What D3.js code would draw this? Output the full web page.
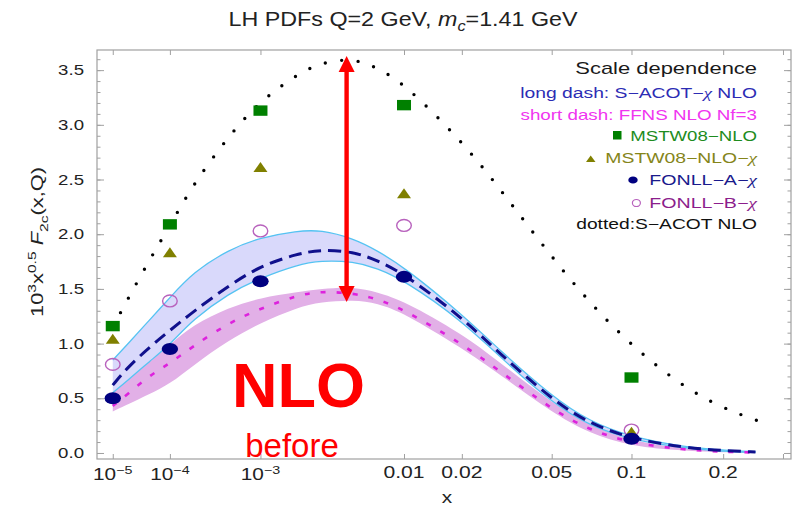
<!DOCTYPE html>
<html><head><meta charset="utf-8">
<script src="https://cdn.jsdelivr.net/npm/d3@7"></script>
<style>body{margin:0;background:#fff}svg{display:block}</style>
</head><body>
<svg id="chart" width="801" height="509"></svg>
<script>
// ---------------- data ----------------
const xGrid = [1e-5,2e-5,5e-5,1e-4,2e-4,5e-4,1e-3,2e-3,3e-3,5e-3,7e-3,0.01,0.02,0.03,0.05,0.07,0.1,0.15,0.2,0.25];
const sacotChiNLO  = [0.62,0.78,0.97,1.12,1.29,1.53,1.71,1.82,1.86,1.84,1.76,1.64,1.24,0.91,0.49,0.27,0.13,0.05,0.02,0.01];
const sacotChiLow  = [0.55,0.66,0.84,0.99,1.22,1.46,1.60,1.72,1.76,1.75,1.69,1.58,1.21,0.88,0.46,0.25,0.12,0.045,0.015,0.005];
const sacotChiHigh = [0.85,0.99,1.22,1.42,1.65,1.86,1.97,2.03,2.04,1.96,1.85,1.70,1.27,0.94,0.52,0.29,0.145,0.055,0.025,0.012];
const ffnsNLO  = [0.43,0.535,0.71,0.82,0.975,1.19,1.32,1.44,1.48,1.46,1.41,1.31,1.00,0.75,0.40,0.21,0.09,0.03,0.01,0.004];
const ffnsLow  = [0.38,0.44,0.54,0.63,0.80,1.03,1.19,1.33,1.38,1.40,1.37,1.28,0.96,0.72,0.37,0.18,0.06,0.02,0.006,0.002];
const ffnsHigh = [0.55,0.66,0.84,0.99,1.17,1.33,1.42,1.47,1.50,1.52,1.47,1.39,1.09,0.83,0.46,0.25,0.11,0.04,0.015,0.007];
const sacotX   = [1e-5,2e-5,5e-5,1e-4,2e-4,5e-4,1e-3,2e-3,3e-3,5e-3,7e-3,0.01,0.02,0.03,0.05,0.07,0.1,0.15,0.2,0.25,0.27];
const sacotNLO = [1.15,1.40,1.77,2.08,2.45,2.90,3.22,3.46,3.57,3.61,3.52,3.38,2.85,2.42,1.79,1.38,0.98,0.60,0.41,0.30,0.27];

const pointX    = [1e-5,1e-4,1e-3,0.01,0.1];
const mstw08    = [1.16,2.09,3.13,3.18,0.69];
const mstw08chi = [1.04,1.83,2.61,2.37,0.19];
const fonllA    = [0.50,0.95,1.57,1.61,0.13];
const fonllB    = [0.81,1.39,2.03,2.08,0.21];

const arrowX = 0.0045, arrowTop = 3.63, arrowBottom = 1.38;

const xTicks = [1e-5,1e-4,1e-3,0.01,0.02,0.05,0.1,0.2,0.3];
const xTickLabels = ["10^−5","10^−4","10^−3","0.01","0.02","0.05","0.1","0.2",""];
const yMajor = [0,0.5,1,1.5,2,2.5,3,3.5];
const yMinor = d3.range(0,37).map(i=>i/10);

const legendRows = [
  {parts:[["Scale dependence"]], color:"#1a1a1a"},
  {parts:[["long dash: S−ACOT−"],["χ","chi"],[" NLO"]], color:"#2c2cb4"},
  {parts:[["short dash: FFNS NLO Nf=3"]], color:"#f035f0"},
  {parts:[["MSTW08−NLO"]], color:"#1e8c1e"},
  {parts:[["MSTW08−NLO−"],["χ","chi"]], color:"#85851a"},
  {parts:[["FONLL−A−"],["χ","chi"]], color:"#1a1a8c"},
  {parts:[["FONLL−B−"],["χ","chi"]], color:"#8c1e8c"},
  {parts:[["dotted:S−ACOT NLO"]], color:"#111111"}
];

// ---------------- layout ----------------
const FONT = "'Liberation Sans', Arial, Helvetica, sans-serif";
const L = 97, R = 791, T = 50, B = 459;
const svg = d3.select("#chart");
const x = d3.scalePow().exponent(0.2).domain([4.15e-6, 0.316]).range([L, R]);
const y = d3.scaleLinear().domain([-0.055, 3.684]).range([B, T]);

function addText(parent, o, build) {
  const g = parent.append("g");
  const t = g.append("text").attr("x",0).attr("y",0)
    .attr("text-anchor", o.anchor || "start")
    .attr("font-size", o.size).attr("fill", o.fill || "#222")
    .attr("font-family", o.family || FONT);
  if (o.weight) t.attr("font-weight", o.weight);
  build(t);
  let sx = o.sx || 1;
  if (o.width) { const w = t.node().getBBox().width; sx = o.width / w; }
  g.attr("transform", `translate(${o.x},${o.y})${o.rotate ? ` rotate(${o.rotate})` : ""} scale(${sx},${o.sy || 1})`);
  return t;
}

const plot = svg.append("g");
svg.append("clipPath").attr("id","clip").append("rect")
  .attr("x",L).attr("y",T).attr("width",R-L).attr("height",B-T);
const inner = plot.append("g").attr("clip-path","url(#clip)");

// bands
const idx = xGrid.map((d,i)=>i);
const CURVE = d3.curveBasis;
const area = (lo, hi) => d3.area().curve(CURVE)
  .x(i=>x(xGrid[i])).y0(i=>y(lo[i])).y1(i=>y(hi[i]));
const lineOf = (xs, ys) => d3.line().curve(CURVE).x(i=>x(xs[i])).y(i=>y(ys[i]));

inner.append("path").attr("d", area(ffnsLow, ffnsHigh)(idx)).attr("fill","#e2b0e7");
inner.append("path").attr("d", area(sacotChiLow, sacotChiHigh)(idx)).attr("fill","#d6d6fb").attr("fill-opacity",0.92);
inner.append("path").attr("d", lineOf(xGrid, sacotChiHigh)(idx)).attr("fill","none").attr("stroke","#55c3f2").attr("stroke-width",1.3);
inner.append("path").attr("d", lineOf(xGrid, sacotChiLow)(idx)).attr("fill","none").attr("stroke","#55c3f2").attr("stroke-width",1.3);

// lines
inner.append("path").attr("d", lineOf(xGrid, ffnsNLO)(idx)).attr("fill","none")
  .attr("stroke","#dd22dd").attr("stroke-width",2.6).attr("stroke-dasharray","5,11");
inner.append("path").attr("d", lineOf(xGrid, sacotChiNLO)(idx)).attr("fill","none")
  .attr("stroke","#10108c").attr("stroke-width",3).attr("stroke-dasharray","13,7");
inner.append("path").attr("d", lineOf(sacotX, sacotNLO)(sacotX.map((d,i)=>i))).attr("fill","none")
  .attr("stroke","#000").attr("stroke-width",3.4).attr("stroke-linecap","round").attr("stroke-dasharray","0,16.5");

// markers
const mk = plot.append("g");
mk.selectAll("rect.sq").data(pointX).join("rect")
  .attr("x",(d)=>x(d)-7).attr("y",(d,i)=>y(mstw08[i])-5.2).attr("width",14).attr("height",10.4).attr("fill","#008000");
mk.selectAll("path.tri").data(pointX).join("path")
  .attr("d",(d,i)=>{const cx=x(d), cy=y(mstw08chi[i]); return `M${cx-7},${cy+4.5}L${cx+7},${cy+4.5}L${cx},${cy-5.5}Z`;})
  .attr("fill","#808000");
mk.selectAll("ellipse.op").data(pointX).join("ellipse")
  .attr("cx",d=>x(d)).attr("cy",(d,i)=>y(fonllB[i])).attr("rx",7.3).attr("ry",5.9)
  .attr("fill","none").attr("stroke","#b862bd").attr("stroke-width",1.4);
mk.selectAll("ellipse.fi").data(pointX).join("ellipse")
  .attr("cx",d=>x(d)).attr("cy",(d,i)=>y(fonllA[i])).attr("rx",8.2).attr("ry",6).attr("fill","#000080");

// frame & ticks
const tickStyle = g => { g.select(".domain").remove(); g.selectAll("line").attr("stroke","#a0a0a0"); };
plot.append("g").attr("transform",`translate(${L},0)`).call(d3.axisRight(y).tickValues(yMinor).tickSize(3.5).tickFormat("")).call(tickStyle);
plot.append("g").attr("transform",`translate(${L},0)`).call(d3.axisRight(y).tickValues(yMajor).tickSize(7).tickFormat("")).call(tickStyle);
plot.append("g").attr("transform",`translate(${R},0)`).call(d3.axisLeft(y).tickValues(yMinor).tickSize(3.5).tickFormat("")).call(tickStyle);
plot.append("g").attr("transform",`translate(${R},0)`).call(d3.axisLeft(y).tickValues(yMajor).tickSize(7).tickFormat("")).call(tickStyle);
plot.append("g").attr("transform",`translate(0,${B})`).call(d3.axisTop(x).tickValues(xTicks).tickSize(5).tickFormat("")).call(tickStyle);
plot.append("g").attr("transform",`translate(0,${T})`).call(d3.axisBottom(x).tickValues(xTicks).tickSize(5).tickFormat("")).call(tickStyle);
plot.append("rect").attr("x",L).attr("y",T).attr("width",R-L).attr("height",B-T)
  .attr("fill","none").attr("stroke","#a0a0a0").attr("stroke-width",1.2);

// tick labels
const fmtY = d3.format(".1f");
yMajor.forEach(v => addText(svg, {x:84, y:y(v)+5, size:14, anchor:"end", sx:1.33}, t=>t.text(fmtY(v))));
xTicks.forEach((v,i) => {
  const lab = xTickLabels[i]; if (!lab) return;
  if (lab.includes("^")) {
    const [b,e] = lab.split("^");
    addText(svg, {x:x(v), y:479.5, size:16, anchor:"middle", sx:1.3}, t=>{
      t.append("tspan").text(b);
      t.append("tspan").attr("font-size",11).attr("dy",-6).text(e);
    });
  } else {
    addText(svg, {x:x(v), y:477.5, size:16, anchor:"middle", sx:1.32}, t=>t.text(lab));
  }
});

// axis titles
addText(svg, {x:447, y:503, size:16, anchor:"middle", sx:1.3}, t=>t.text("x"));
addText(svg, {x:43, y:242, size:14, anchor:"middle", rotate:-90, width:150, sy:1.15}, t=>{
  t.append("tspan").text("10");
  t.append("tspan").attr("font-size",10).attr("dy",-6).text("3");
  t.append("tspan").attr("dy",6).text("x");
  t.append("tspan").attr("font-size",10).attr("dy",-6).text("0.5");
  t.append("tspan").attr("dy",6).text(" ");
  t.append("tspan").attr("font-style","italic").text("F");
  t.append("tspan").attr("font-size",10).attr("dy",4).text("2c");
  t.append("tspan").attr("dy",-4).text("(x,Q)");
});

// title
addText(svg, {x:403, y:26, size:20, anchor:"middle", width:350}, t=>{
  t.append("tspan").text("LH PDFs Q=2 GeV, ");
  t.append("tspan").attr("font-style","italic").text("m");
  t.append("tspan").attr("font-style","italic").attr("font-size",14).attr("dy",5).text("c");
  t.append("tspan").attr("dy",-5).text("=1.41 GeV");
});

// legend
const legBase = [74.4, 97.5, 119.5, 141, 163, 185, 207.6, 228.5];
const legWidth = [182, 237, 237, 127, 153, 109, 109, 181];
legendRows.forEach((row,i) => {
  addText(svg, {x:757, y:legBase[i], size: i===0 ? 16 : 14, anchor:"end", fill:row.color, width:legWidth[i]}, t=>{
    row.parts.forEach(p => {
      const s = t.append("tspan").text(p[0]);
      if (p[1]==="chi") s.attr("font-family","'Liberation Serif', 'DejaVu Serif', serif").attr("font-style","italic");
    });
  });
});
const lg = svg.append("g");
lg.append("rect").attr("x",613).attr("y",131).attr("width",8.5).attr("height",8.5).attr("fill","#008000");
lg.append("path").attr("d","M586,162L595.5,162L590.7,155.5Z").attr("fill","#808000");
lg.append("ellipse").attr("cx",633).attr("cy",180).attr("rx",4.7).attr("ry",3.6).attr("fill","#000080");
lg.append("ellipse").attr("cx",636.4).attr("cy",203).attr("rx",4).attr("ry",3.5).attr("fill","none").attr("stroke","#b862bd").attr("stroke-width",1.2);

// red arrow annotation
const ax = x(arrowX), ay1 = y(arrowTop), ay2 = y(arrowBottom), hl = 16, hw = 8;
const an = svg.append("g").attr("fill","#ff0000");
an.append("rect").attr("x",ax-2.2).attr("y",ay1+hl-1).attr("width",4.4).attr("height",(ay2-ay1)-2*hl+2);
an.append("path").attr("d",`M${ax},${ay1}L${ax-hw},${ay1+hl}L${ax+hw},${ay1+hl}Z`);
an.append("path").attr("d",`M${ax},${ay2}L${ax-hw},${ay2-hl}L${ax+hw},${ay2-hl}Z`);

addText(svg, {x:298.5, y:407, size:63, anchor:"middle", fill:"#ff0000", weight:"bold"}, t=>t.text("NLO"));
addText(svg, {x:292, y:457, size:33, anchor:"middle", fill:"#ff0000"}, t=>t.text("before"));
</script>
</body></html>
